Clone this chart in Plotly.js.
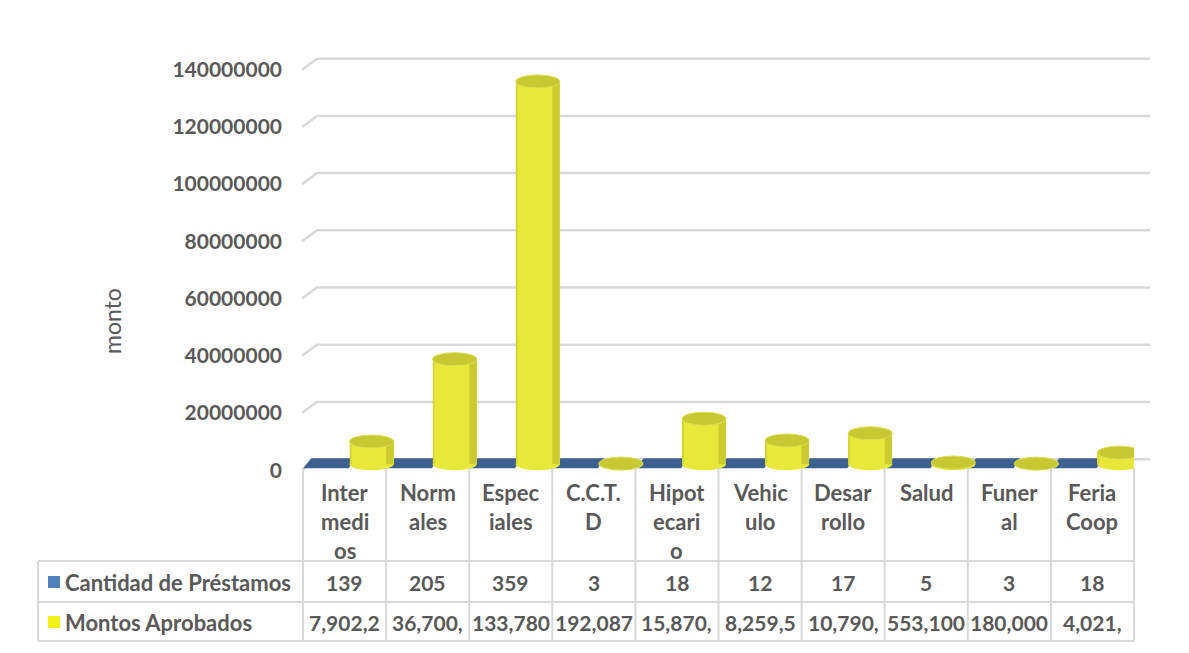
<!DOCTYPE html>
<html>
<head>
<meta charset="utf-8">
<script src="https://cdn.plot.ly/plotly-3.0.1.min.js"></script>
<style>html,body{margin:0;padding:0;background:#fff;}#chart{width:1189px;height:653px;}</style>
</head>
<body>
<div id="chart"></div>
<script>
// ---- data ----
const categorias = ['Inter<br>medi<br>os', 'Norm<br>ales', 'Espec<br>iales', 'C.C.T.<br>D', 'Hipot<br>ecari<br>o', 'Vehic<br>ulo', 'Desar<br>rollo', 'Salud', 'Funer<br>al', 'Feria<br>Coop'];
const cantidadPrestamos = [139, 205, 359, 3, 18, 12, 17, 5, 3, 18];
const montosAprobados = [7902250, 36700000, 133780000, 192087, 15870000, 8259500, 10790000, 553100, 180000, 4021000];
const montosEtiquetas = ['7,902,2', '36,700,', '133,780', '192,087', '15,870,', '8,259,5', '10,790,', '553,100', '180,000', '4,021,'];
const serieNombres = ['Cantidad de Préstamos', 'Montos Aprobados'];
const ejeY = [0, 20000000, 40000000, 60000000, 80000000, 100000000, 120000000, 140000000];
const tituloY = 'monto';

// ---- layout geometry ----
const W = 1189, H = 653, L = 303, R = 55, T = 48, B = 181;
const PW = W - L - R, PH = H - T - B;
const fx = px => (px - L) / PW;
const fy = py => (H - B - py) / PH;

const txt = '#595959';
const gridC = '#d9d9d9';
const yellow = '#e8e83a';
const yellowTop = '#c8c833';
const yellowDark = '#c2c22c';
const slabBlue = '#3c6190';
const legendBlue = '#4f81bd';
const legendYellow = '#f2f21a';
const fontFam = 'Lato, "Open Sans", sans-serif';

const xs = categorias.map((_, i) => i);
const barOff = 0.06, barW = 0.53;

const traces = [
  {type: 'bar', x: xs, y: cantidadPrestamos, name: serieNombres[0], marker: {color: slabBlue}, offset: -0.5, width: 0.55, showlegend: false},
  {type: 'bar', x: xs, y: montosAprobados, name: serieNombres[1], marker: {color: yellow, line: {width: 0}}, offset: barOff, width: barW, showlegend: false}
];

const shapes = [];
// gridlines with 3D slant (back wall)
ejeY.forEach(v => {
  shapes.push({type: 'path', layer: 'below', xref: 'paper', yref: 'y', xsizemode: 'pixel', ysizemode: 'pixel',
    xanchor: 0, yanchor: v, path: 'M -1,-6 L 14,5 L 847,5', line: {color: gridC, width: 2.5}});
});
// blue floor slabs (Cantidad de Préstamos)
cantidadPrestamos.forEach((v, i) => {
  shapes.push({type: 'path', layer: 'below', xref: 'x', yref: 'y', ysizemode: 'pixel', yanchor: v,
    path: `M ${i - 0.5},-4 L ${i + 0.05},-4 L ${i + 0.13},6 L ${i - 0.40},6 Z`,
    fillcolor: slabBlue, line: {width: 0}});
});
// cylinder bottoms
montosAprobados.forEach((v, i) => {
  shapes.push({type: 'circle', layer: 'below', xref: 'x', yref: 'y', ysizemode: 'pixel', yanchor: 0,
    x0: i + barOff, x1: i + barOff + barW, y0: -6, y1: 6, fillcolor: yellow, line: {width: 0}});
});
// cylinder shading
montosAprobados.forEach((v, i) => {
  shapes.push({type: 'rect', layer: 'above', xref: 'x', yref: 'y',
    x0: i + barOff + barW - 0.09, x1: i + barOff + barW, y0: 0, y1: v, fillcolor: yellowDark, opacity: 0.75, line: {width: 0}});
  shapes.push({type: 'rect', layer: 'above', xref: 'x', yref: 'y',
    x0: i + barOff, x1: i + barOff + 0.025, y0: 0, y1: v, fillcolor: yellowDark, opacity: 0.45, line: {width: 0}});
});
// cylinder tops
montosAprobados.forEach((v, i) => {
  shapes.push({type: 'circle', layer: 'above', xref: 'x', yref: 'y', ysizemode: 'pixel', yanchor: v,
    x0: i + barOff, x1: i + barOff + barW, y0: -6.5, y1: 6.5, fillcolor: yellowTop, line: {color: '#dede55', width: 1}});
});
// data table lines
const tl = {color: gridC, width: 2};
[561, 602, 641].forEach(py => shapes.push({type: 'line', xref: 'paper', yref: 'paper', x0: fx(38), x1: 1, y0: fy(py), y1: fy(py), line: tl}));
shapes.push({type: 'line', xref: 'paper', yref: 'paper', x0: fx(38), x1: fx(38), y0: fy(561), y1: fy(641), line: tl});
for (let k = 0; k <= categorias.length; k++) {
  const xp = k / categorias.length;
  shapes.push({type: 'line', xref: 'paper', yref: 'paper', x0: xp, x1: xp, y0: fy(468), y1: fy(641), line: tl});
}
// legend keys
shapes.push({type: 'rect', xref: 'paper', yref: 'paper', x0: fx(48), x1: fx(60), y0: fy(588), y1: fy(576), fillcolor: legendBlue, line: {width: 0}});
shapes.push({type: 'rect', xref: 'paper', yref: 'paper', x0: fx(48), x1: fx(60), y0: fy(628), y1: fy(616), fillcolor: legendYellow, line: {width: 0}});

const boldNum = {family: fontFam, size: 21, color: txt, weight: 700};
const boldTxt = {family: fontFam, size: 22, color: txt, weight: 700};
const annotations = [];
categorias.forEach((c, i) => {
  c.split('<br>').forEach((line, k) => {
    annotations.push({xref: 'x', yref: 'paper', x: i, y: fy(492 + 29 * k), text: line, showarrow: false, font: boldTxt, xanchor: 'center', yanchor: 'middle'});
  });
  annotations.push({xref: 'x', yref: 'paper', x: i, y: fy(582), text: String(cantidadPrestamos[i]), showarrow: false, font: boldNum, xanchor: 'center', yanchor: 'middle'});
  annotations.push({xref: 'x', yref: 'paper', x: i, y: fy(622), text: montosEtiquetas[i], showarrow: false, font: boldNum, xanchor: 'center', yanchor: 'middle'});
});
annotations.push({xref: 'paper', yref: 'paper', x: fx(63), y: fy(582), text: serieNombres[0], showarrow: false, font: boldTxt, xanchor: 'left', yanchor: 'middle'});
annotations.push({xref: 'paper', yref: 'paper', x: fx(63), y: fy(622), text: serieNombres[1], showarrow: false, font: boldTxt, xanchor: 'left', yanchor: 'middle'});
annotations.push({xref: 'paper', yref: 'paper', x: fx(112), y: fy(321), text: tituloY, textangle: -90, showarrow: false,
  font: {family: fontFam, size: 23, color: txt}, xanchor: 'center', yanchor: 'middle'});

const yMin = -8 / 408 * 140000000, yMax = 140000000 + 16 / 408 * 140000000;
const layout = {
  width: W, height: H,
  margin: {l: L, r: R, t: T, b: B, pad: 0},
  paper_bgcolor: '#ffffff', plot_bgcolor: 'rgba(0,0,0,0)',
  showlegend: false,
  bargap: 0,
  xaxis: {range: [-0.5, categorias.length - 0.5], showticklabels: false, showgrid: false, zeroline: false, showline: false, fixedrange: true},
  yaxis: {range: [yMin, yMax], tickmode: 'array', tickvals: ejeY, tickformat: 'd', showgrid: false, zeroline: false, showline: false,
    ticks: '', ticklabelstandoff: 20, ticklabelshift: 6, tickfont: {family: fontFam, size: 21, color: txt, weight: 700}, fixedrange: true},
  shapes: shapes,
  annotations: annotations
};
Plotly.newPlot('chart', traces, layout, {displayModeBar: false, staticPlot: true});
</script>
</body>
</html>
